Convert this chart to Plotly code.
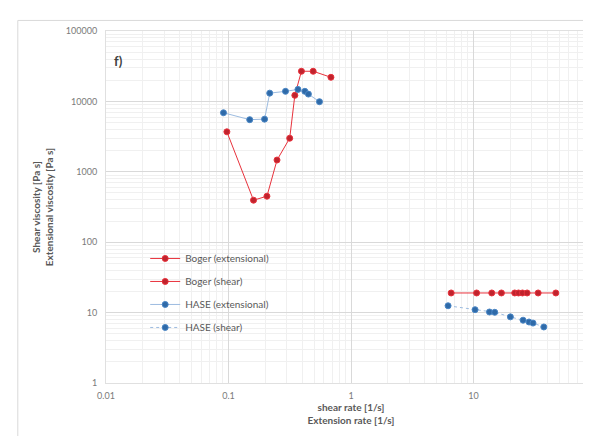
import plotly.graph_objects as go

# Boger fluid, extensional
boger_ext_x = [0.097, 0.160, 0.206, 0.249, 0.316, 0.348, 0.394, 0.491, 0.686]
boger_ext_y = [3700, 395, 450, 1470, 3000, 12200, 26800, 26800, 22000]
# Boger fluid, shear
boger_sh_x = [6.57, 10.6, 14.1, 16.9, 21.7, 23.3, 25.1, 27.4, 33.7, 47.0]
boger_sh_y = [19.0, 19.0, 19.0, 19.0, 19.0, 19.0, 19.0, 19.0, 19.0, 19.0]
# HASE, extensional
hase_ext_x = [0.091, 0.149, 0.197, 0.217, 0.292, 0.369, 0.420, 0.449, 0.553]
hase_ext_y = [6900, 5500, 5600, 13100, 13900, 14800, 13900, 12700, 9900]
# HASE, shear
hase_sh_x = [6.2, 10.3, 13.5, 14.9, 20.0, 25.4, 28.4, 30.6, 37.5]
hase_sh_y = [12.5, 11.0, 10.2, 10.1, 8.7, 7.8, 7.35, 7.1, 6.25]

RED = "#E8323C"
RED_DARK = "#C0232D"
BLUE = "#4A86C5"
BLUE_DARK = "#2F6AA8"
FONT = "Lato, Open Sans, sans-serif"

fig = go.Figure()
fig.add_trace(go.Scatter(x=boger_ext_x, y=boger_ext_y, mode="lines+markers",
                         name="Boger (extensional)", legendgroup="a",
                         line=dict(color=RED, width=1),
                         marker=dict(color=RED_DARK, size=6, line=dict(color=RED, width=1))))
fig.add_trace(go.Scatter(x=boger_sh_x, y=boger_sh_y, mode="lines+markers",
                         name="Boger (shear)", legendgroup="b",
                         line=dict(color=RED, width=1),
                         marker=dict(color=RED_DARK, size=6, line=dict(color=RED, width=1))))
fig.add_trace(go.Scatter(x=hase_ext_x, y=hase_ext_y, mode="lines+markers",
                         name="HASE (extensional)", legendgroup="c",
                         line=dict(color="#9DBCE0", width=1),
                         marker=dict(color=BLUE_DARK, size=6, line=dict(color=BLUE, width=1))))
fig.add_trace(go.Scatter(x=hase_sh_x, y=hase_sh_y, mode="lines+markers",
                         name="HASE (shear)", legendgroup="d",
                         line=dict(color="#9DBCE0", width=1, dash="dot"),
                         marker=dict(color=BLUE_DARK, size=6, line=dict(color=BLUE, width=1))))

axis_common = dict(
    type="log", dtick=1,
    showline=True, linecolor="#E0E0E0", linewidth=1, mirror=True,
    showgrid=True, gridcolor="#D9D9D9", gridwidth=1,
    zeroline=False, ticks="",
    tickfont=dict(family=FONT, size=9, color="#7A7A7A"),
    minor=dict(showgrid=True, gridcolor="#F0F0F0", gridwidth=1, ticks=""),
)

fig.update_layout(
    width=591, height=436,
    margin=dict(l=98, r=3, t=23, b=61),
    paper_bgcolor="white", plot_bgcolor="white",
    font=dict(family=FONT, color="#595959"),
    xaxis=dict(axis_common, range=[-2, 2], ticklabelstandoff=4,
               title=dict(text="<b>shear rate [1/s]<br>Extension rate [1/s]</b>",
                          font=dict(family=FONT, size=10, color="#595959"), standoff=4)),
    yaxis=dict(axis_common, range=[0, 5], tickformat="d", ticklabelstandoff=6,
               title=dict(text="<b>Shear viscosity [Pa s]<br>Extensional viscosity [Pa s]</b>",
                          font=dict(family=FONT, size=10, color="#595959"), standoff=10)),
    legend=dict(x=0.08, y=0.395, xanchor="left", yanchor="top",
                bgcolor="rgba(0,0,0,0)", tracegroupgap=4,
                font=dict(family=FONT, size=10, color="#595959"), itemwidth=30),
    showlegend=True,
)

fig.add_annotation(x=0.012, y=0.915, xref="paper", yref="paper", text="<b>f)</b>",
                   showarrow=False, font=dict(family=FONT, size=13, color="#404040"),
                   xanchor="left", yanchor="middle")

fig.add_shape(type="rect", xref="paper", yref="paper",
              x0=-0.18, y0=-0.155, x1=1.0, y1=1.03,
              line=dict(color="#D9D9D9", width=1), layer="below")

fig.write_html("out.html")
